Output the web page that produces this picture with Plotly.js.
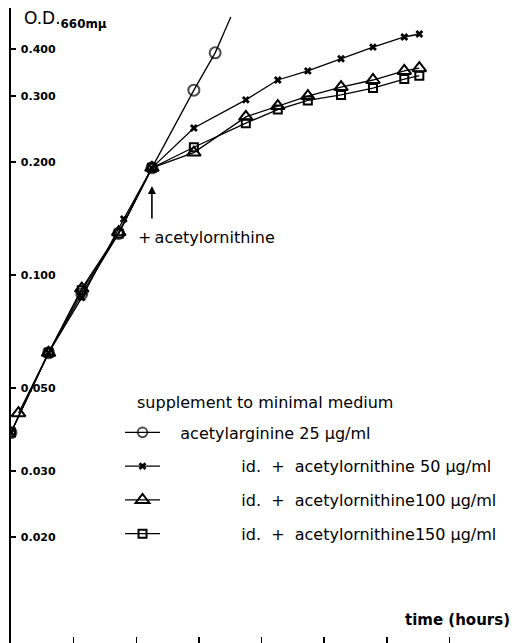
<!DOCTYPE html>
<html>
<head>
<meta charset="utf-8">
<script src="https://cdn.plot.ly/plotly-3.0.1.min.js"></script>
<style>html,body{margin:0;padding:0;background:#fff;}#chart{width:512px;height:643px;}</style>
</head>
<body>
<div id="chart"></div>
<script>
// ---- data (time in hours, optical density at 660 mμ) ----
const timeCircle = [0, 0.6, 1.13, 1.72, 2.25, 2.92, 3.26, 3.51];
const odCircle   = [0.038, 0.062, 0.089, 0.129, 0.193, 0.311, 0.391, 0.487];

const timeCross = [0, 0.6, 1.13, 1.80, 2.25, 2.92, 3.75, 4.26, 4.74, 5.27, 5.78, 6.28, 6.52];
const odCross   = [0.038, 0.062, 0.087, 0.141, 0.193, 0.2466, 0.293, 0.331, 0.350, 0.377, 0.405, 0.431, 0.439];

const timeTri = [0.12, 0.6, 1.13, 1.72, 2.25, 2.92, 3.75, 4.26, 4.74, 5.27, 5.78, 6.28, 6.52];
const odTri   = [0.0428, 0.062, 0.092, 0.130, 0.193, 0.212, 0.264, 0.282, 0.300, 0.317, 0.331, 0.350, 0.356];

const timeSq = [0, 0.6, 1.13, 1.72, 2.25, 2.92, 3.75, 4.26, 4.74, 5.27, 5.78, 6.28, 6.52];
const odSq   = [0.038, 0.062, 0.091, 0.129, 0.193, 0.219, 0.254, 0.276, 0.292, 0.302, 0.315, 0.333, 0.340];

const seriesNames = [
  'acetylarginine 25 μg/ml',
  'id.  +  acetylornithine 50 μg/ml',
  'id.  +  acetylornithine100 μg/ml',
  'id.  +  acetylornithine150 μg/ml'
];
const legendTitle = 'supplement to minimal medium';
const yTickVals = [0.02, 0.03, 0.05, 0.1, 0.2, 0.3, 0.4];
const yTickText = ['0.020', '0.030', '0.050', '0.100', '0.200', '0.300', '0.400'];
const xTickVals = [1, 2, 3, 4, 5, 6, 7];
const additionTime = 2.25;
const additionOD = 0.1727;

// ---- styling ----
const BLACK = '#000';
const indentFirst = '\u00a0'.repeat(3);
const indentRest = '\u00a0'.repeat(15);
const lineStyle = {color: BLACK, width: 1.3};

const circleSizes = odCircle.map((v, i) => i === odCircle.length - 1 ? 0 : 11);

const traces = [
  {x: timeCircle, y: odCircle, name: indentFirst + seriesNames[0], legendgroup: 'a',
   mode: 'lines+markers', line: lineStyle,
   marker: {symbol: 'circle-open', size: circleSizes, color: BLACK, line: {width: 2, color: BLACK}}},
  {x: timeCross, y: odCross, name: indentRest + seriesNames[1], legendgroup: 'b',
   mode: 'lines+markers', line: lineStyle,
   marker: {symbol: 'x', size: 7, color: BLACK, line: {width: 0}}},
  {x: timeTri, y: odTri, name: indentRest + seriesNames[2], legendgroup: 'c',
   mode: 'lines+markers', line: lineStyle,
   marker: {symbol: 'triangle-up-open', size: 12, color: BLACK, line: {width: 2, color: BLACK}}},
  {x: timeSq, y: odSq, name: indentRest + seriesNames[3], legendgroup: 'd',
   mode: 'lines+markers', line: lineStyle,
   marker: {symbol: 'square-open', size: 8, color: BLACK, line: {width: 2, color: BLACK}}}
];

const FONT = 'DejaVu Sans, Liberation Sans, sans-serif';

const layout = {
  width: 512, height: 643,
  margin: {l: 11, r: 0, t: 8, b: 0, pad: 0},
  paper_bgcolor: '#fff', plot_bgcolor: '#fff',
  showlegend: true,
  legend: {
    x: 0.2176, y: 0.3584, xanchor: 'left', yanchor: 'top',
    bgcolor: 'rgba(0,0,0,0)', borderwidth: 0,
    font: {family: FONT, size: 16, color: BLACK},
    traceorder: 'grouped', tracegroupgap: 10, itemwidth: 35,
    itemclick: false
  },
  xaxis: {
    range: [0, 8.0], showline: false, zeroline: false, showgrid: false,
    ticks: 'inside', ticklen: 6, tickwidth: 1.5, tickcolor: BLACK,
    tickvals: xTickVals, showticklabels: false, fixedrange: true
  },
  yaxis: {
    type: 'log', range: [Math.log10(0.01044), Math.log10(0.515)],
    showline: true, linewidth: 2, linecolor: BLACK, zeroline: false, showgrid: false,
    ticks: 'inside', ticklen: 5, tickwidth: 1.5, tickcolor: BLACK,
    ticklabelposition: 'inside', ticklabelstandoff: 4,
    tickvals: yTickVals, ticktext: yTickText,
    tickfont: {family: FONT, size: 11, color: BLACK, weight: 'bold'},
    fixedrange: true
  },
  annotations: [
    {xref: 'paper', yref: 'paper', x: 0.021, y: 0.982, xanchor: 'left', yanchor: 'middle',
     text: 'O.D.<sub><b>660mμ</b></sub>', showarrow: false,
     font: {family: FONT, size: 17, color: BLACK}},
    {xref: 'paper', yref: 'paper', x: 1, y: 0.036, xanchor: 'right', yanchor: 'middle',
     text: '<b>time (hours)</b>', showarrow: false,
     font: {family: FONT, size: 15, color: BLACK}},
    {xref: 'x', yref: 'y', x: additionTime, y: Math.log10(additionOD),
     text: '', showarrow: true, ax: 0, ay: 34, arrowhead: 2, arrowsize: 1, arrowwidth: 1.6, arrowcolor: BLACK},
    {xref: 'paper', yref: 'paper', x: 0.25, y: 0.639, xanchor: 'left', yanchor: 'middle',
     text: '+\u2009acetylornithine', showarrow: false,
     font: {family: FONT, size: 16, color: BLACK}},
    {xref: 'paper', yref: 'paper', x: 0.247, y: 0.378, xanchor: 'left', yanchor: 'middle',
     text: legendTitle, showarrow: false,
     font: {family: FONT, size: 16, color: BLACK}}
  ]
};

Plotly.newPlot('chart', traces, layout, {staticPlot: true, displayModeBar: false});
</script>
</body>
</html>
